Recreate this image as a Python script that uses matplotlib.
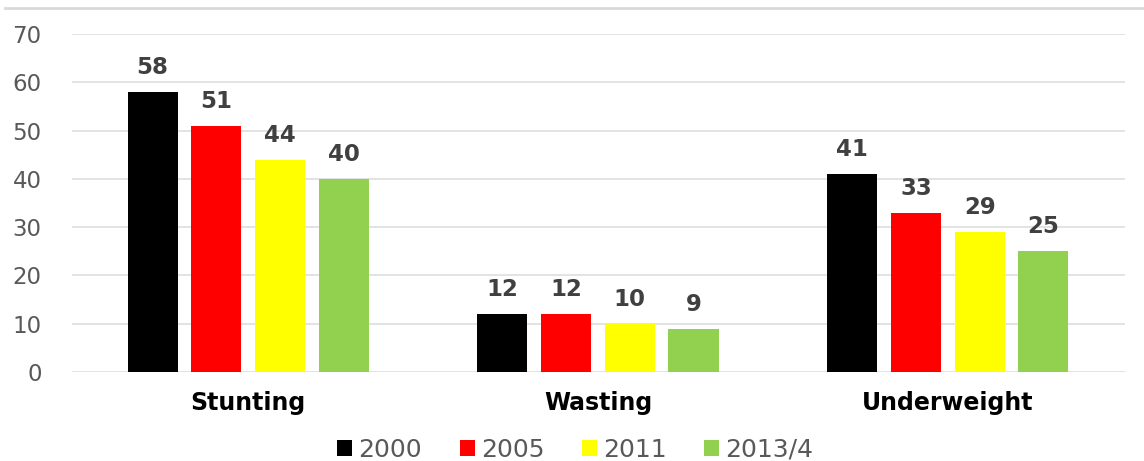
import matplotlib
matplotlib.use("Agg")
import matplotlib.pyplot as plt
import numpy as np
from matplotlib.lines import Line2D

categories = ["Stunting", "Wasting", "Underweight"]
series_names = ["2000", "2005", "2011", "2013/4"]
v2000 = [58, 12, 41]
v2005 = [51, 12, 33]
v2011 = [44, 10, 29]
v2013 = [40, 9, 25]
colors = ["#000000", "#ff0000", "#ffff00", "#92d050"]
yticks = [0, 10, 20, 30, 40, 50, 60, 70]

plt.rcParams['font.family'] = ['DejaVu Sans']

fig = plt.figure(figsize=(11.44, 4.61), dpi=100)
ax = fig.add_axes([0.063, 0.193, 0.92, 0.733])

x = np.arange(len(categories))
step = 0.182
width = 0.143
all_vals = [v2000, v2005, v2011, v2013]
handles = []
for i, (vals, c, name) in enumerate(zip(all_vals, colors, series_names)):
    pos = x + (i - 1.5) * step
    b = ax.bar(pos, vals, width, color=c, label=name, zorder=3)
    handles.append(b)
    for p, v in zip(pos, vals):
        ax.text(p, v + 2.7, str(v), ha='center', va='bottom', fontsize=16.5,
                fontweight='bold', color='#404040')

ax.set_xlim(-0.503, 2.505)
ax.set_ylim(0, 70)
ax.set_yticks(yticks)
ax.set_yticklabels([str(t) for t in yticks], fontsize=16.5, color='#595959')
ax.set_xticks(x)
ax.set_xticklabels(categories, fontsize=17, fontweight='bold', color='#000000')
ax.tick_params(axis='both', length=0)
ax.tick_params(axis='y', pad=22)
ax.tick_params(axis='x', pad=14)
ax.grid(axis='y', color='#e3e3e3', linewidth=1.4, zorder=0)
for s in ax.spines.values():
    s.set_visible(False)

leg = fig.legend(handles=handles, labels=series_names, loc='center',
                 bbox_to_anchor=(0.503, 0.024), ncol=4, frameon=False,
                 fontsize=18, handlelength=0.6, handleheight=0.6,
                 handletextpad=0.25, columnspacing=1.5)
for t in leg.get_texts():
    t.set_color('#595959')

fig.add_artist(Line2D([0.004, 1.0], [0.983, 0.983], color='#d9d9d9',
                      linewidth=2, transform=fig.transFigure))

fig.savefig("out.png", dpi=100)
